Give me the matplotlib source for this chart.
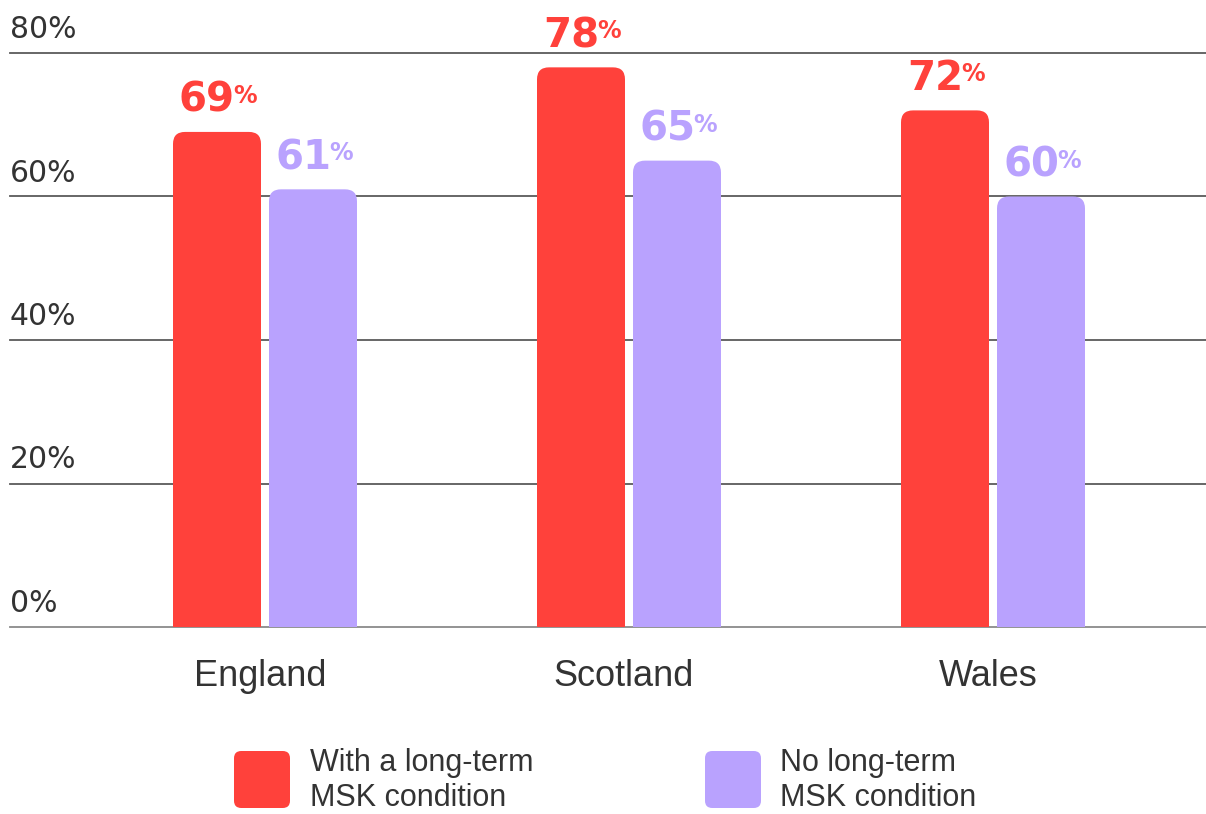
import matplotlib
matplotlib.use("Agg")
import numpy as np
import matplotlib.pyplot as plt
from matplotlib.patches import FancyBboxPatch

# share of people, by nation and MSK status (%)
nations = ["England", "Scotland", "Wales"]
with_msk = [69, 78, 72]
no_msk = [61, 65, 60]
series_names = ["With a long-term\nMSK condition", "No long-term\nMSK condition"]
y_ticks = [0, 20, 40, 60, 80]

RED = "#FF413B"
PURPLE = "#B9A2FE"
GRID = "#5a5a5a"
TXT = "#333333"

W, H = 1206, 814
fig = plt.figure(figsize=(W / 100, H / 100), dpi=100)
ax = fig.add_axes([10 / W, (H - 627) / H, 1 - 10 / W, (627 - 53) / H])

x = np.arange(len(nations))
bw = 88 / 364
off = 48 / 364
ax.set_xlim((10 - 265) / 364, (1206 - 265) / 364)
ax.set_ylim(0, 80)

for s in ax.spines.values():
    s.set_visible(False)
ax.set_xticks([])
ax.set_yticks([])
for t in y_ticks:
    ax.axhline(t, color=GRID if t else "#8a8a8a", lw=1.3, zorder=1, clip_on=False)
    ax.annotate(f"{t}%", (ax.get_xlim()[0], t), xytext=(0, 15), textcoords="offset pixels",
                ha="left", va="baseline", fontsize=21.5, color=TXT, family="DejaVu Sans")

# bars with rounded tops: draw plain bars, then swap each for a rounded patch
bars_red = ax.bar(x - off, with_msk, bw, color=RED)
bars_pur = ax.bar(x + off, no_msk, bw, color=PURPLE)
fig.canvas.draw()
px_x = ax.transData.transform((1, 0))[0] - ax.transData.transform((0, 0))[0]
px_y = ax.transData.transform((0, 1))[1] - ax.transData.transform((0, 0))[1]
aspect = px_x / px_y
rad = 12 / px_x

for bars, vals, col in [(bars_red, with_msk, RED), (bars_pur, no_msk, PURPLE)]:
    for rect, v in zip(bars, vals):
        rect.set_visible(False)
        x0 = rect.get_x()
        p = FancyBboxPatch((x0, -rad * aspect), rect.get_width(), v + rad * aspect,
                           boxstyle=f"round,pad=0,rounding_size={rad}",
                           mutation_aspect=aspect, fc=col, ec="none", zorder=2)
        p.set_clip_path(ax.patch)
        ax.add_patch(p)
        cx = x0 + rect.get_width() / 2
        ax.annotate(f"{v}", (cx, v), xytext=(18, 20), textcoords="offset pixels",
                    ha="right", va="baseline", fontsize=29, fontweight="bold",
                    color=col, family="DejaVu Sans", annotation_clip=False)
        ax.annotate("%", (cx, v), xytext=(16, 48), textcoords="offset pixels",
                    ha="left", va="top", fontsize=17, fontweight="bold",
                    color=col, family="DejaVu Sans", annotation_clip=False)

for xi, name in zip(x, nations):
    ax.annotate(name, (xi, 0), xytext=(-5, -50), textcoords="offset pixels",
                ha="center", va="center", fontsize=26, color=TXT,
                family="Liberation Sans", annotation_clip=False)

# legend: swatch plus two-line label
for (lx, tx), col, label in zip([(234, 310), (705, 780)], [RED, PURPLE], series_names):
    sq = FancyBboxPatch((lx / W, (H - 808) / H), 56 / W, 57 / H,
                        boxstyle="round,pad=0,rounding_size=0.006",
                        mutation_aspect=W / H, fc=col, ec="none",
                        transform=fig.transFigure)
    fig.patches.append(sq)
    for i, line in enumerate(label.split("\n")):
        fig.text(tx / W, (H - 771 - 35 * i) / H, line, ha="left", va="baseline",
                 fontsize=22, color=TXT, family="Liberation Sans")

fig.savefig("out.png", dpi=100, facecolor="white")
